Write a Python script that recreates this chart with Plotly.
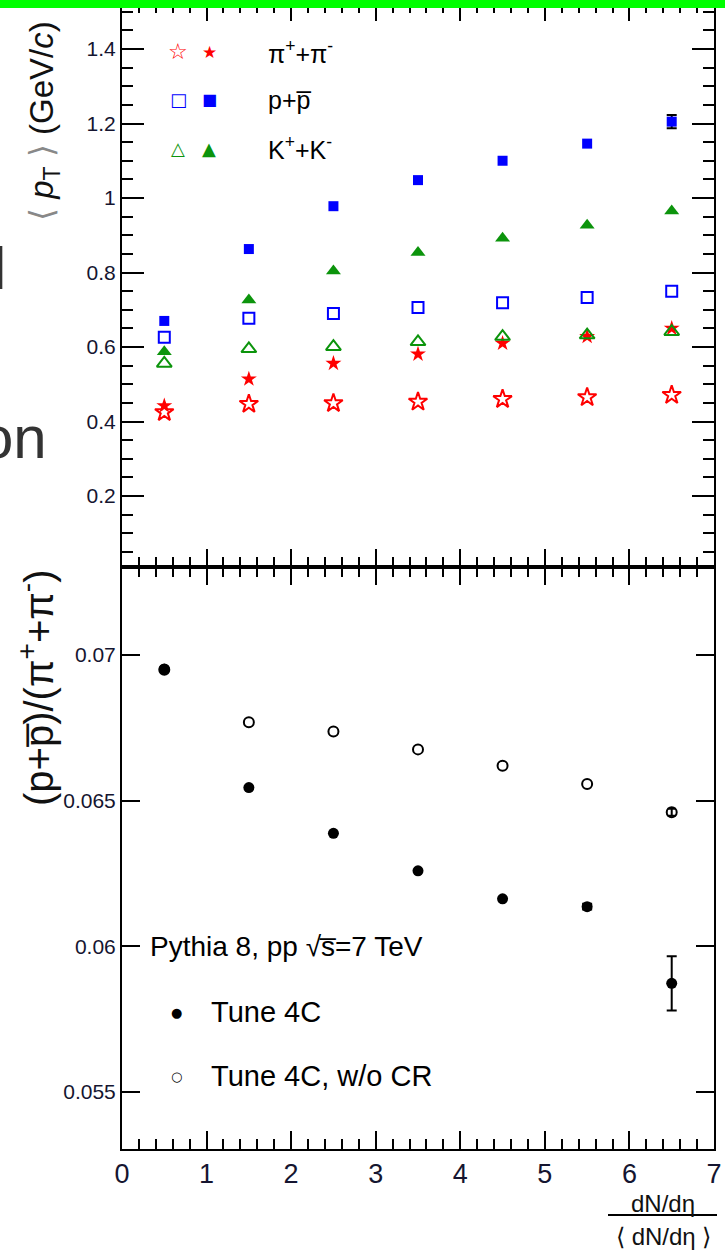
import plotly.graph_objects as go

# ---------------- data ----------------
x_bins = [0.5, 1.5, 2.5, 3.5, 4.5, 5.5, 6.5]

# upper panel: <pT> (GeV/c); open = Tune 4C w/o CR, filled = Tune 4C
pi_open = [0.425, 0.447, 0.449, 0.453, 0.460, 0.465, 0.471]
pi_filled = [0.442, 0.514, 0.556, 0.581, 0.610, 0.628, 0.650]
p_open = [0.626, 0.677, 0.690, 0.706, 0.719, 0.733, 0.750]
p_filled = [0.670, 0.863, 0.978, 1.048, 1.100, 1.146, 1.205]
p_filled_err = [None, None, None, None, None, None, 0.018]
k_open = [0.556, 0.595, 0.601, 0.614, 0.628, 0.632, 0.641]
k_filled = [0.587, 0.726, 0.804, 0.854, 0.892, 0.927, 0.965]

# lower panel: (p+pbar)/(pi+ + pi-)
ratio_4c = [0.06952, 0.06545, 0.06388, 0.06259, 0.06163, 0.06136, 0.05873]
ratio_4c_err = [None, None, None, None, None, 0.0001, 0.00093]
ratio_nocr = [0.06949, 0.06769, 0.06737, 0.06676, 0.06620, 0.06557, 0.06460]
ratio_nocr_err = [None, None, None, None, None, None, 0.00012]

x_ticks = [0, 1, 2, 3, 4, 5, 6, 7]

# ---------------- geometry helpers ----------------
W, H = 725, 1251
L, R = 122, 714          # plot area left / right in px
T, B = 0, 1149           # plot area top / bottom in px
PW, PH = R - L, B - T


def px(xp):
    return (xp - L) / PW


def py(yp):
    return (B - yp) / PH


RED, BLUE, GREEN, BLACK = "#ff0000", "#0000ff", "#0c940c", "#000000"
FONT = "Liberation Sans, Arial, sans-serif"
TICKCOL = "#151530"

fig = go.Figure()


def add_errors(xs, ys, errs, xa, ya, cap):
    """Error bars only (for the points that have one), drawn beneath the markers."""
    sel = [i for i, e in enumerate(errs) if e is not None]
    if not sel:
        return
    fig.add_trace(go.Scatter(x=[xs[i] for i in sel], y=[ys[i] for i in sel], mode="markers",
                             xaxis=xa, yaxis=ya, marker=dict(opacity=0, size=1),
                             error_y=dict(type="data", array=[errs[i] for i in sel], visible=True,
                                          color=BLACK, thickness=2, width=cap)))


def add_points(xs, ys, xa, ya, symbol, size, color, open_marker):
    line = dict(width=2, color=color) if open_marker else dict(width=0)
    fig.add_trace(go.Scatter(x=xs, y=ys, mode="markers", xaxis=xa, yaxis=ya,
                             marker=dict(symbol=symbol, size=size, color=color, line=line)))


# upper panel
add_errors(x_bins, p_filled, p_filled_err, "x", "y", 5)
add_points(x_bins, pi_open, "x", "y", "star-open", 14, RED, True)
add_points(x_bins, pi_filled, "x", "y", "star", 12, RED, False)
add_points(x_bins, k_open, "x", "y", "triangle-up-open", 13, GREEN, True)
add_points(x_bins, k_filled, "x", "y", "triangle-up", 13, GREEN, False)
add_points(x_bins, p_open, "x", "y", "square-open", 11, BLUE, True)
add_points(x_bins, p_filled, "x", "y", "square", 10, BLUE, False)

# lower panel
add_errors(x_bins, ratio_nocr, ratio_nocr_err, "x2", "y2", 4)
add_errors(x_bins, ratio_4c, ratio_4c_err, "x2", "y2", 5)
add_points(x_bins, ratio_nocr, "x2", "y2", "circle-open", 10, BLACK, True)
add_points(x_bins, ratio_4c, "x2", "y2", "circle", 11, BLACK, False)

# ---------------- axes ----------------
top_dom = [py(567), py(3)]
bot_dom = [0, py(567)]

common = dict(showline=True, linecolor="black", linewidth=2, mirror="allticks",
              ticks="inside", tickcolor="black", tickwidth=2, showgrid=False,
              zeroline=False, automargin=False)

fig.update_layout(
    xaxis=dict(**common, range=[0, 7], domain=[0, 1], anchor="y", tickmode="array",
               tickvals=x_ticks, ticklen=18, showticklabels=False,
               minor=dict(dtick=0.2, tick0=0, ticklen=10, tickwidth=2, tickcolor="black",
                          ticks="inside", showgrid=False)),
    yaxis=dict(**common, range=[0.0094, 1.5235], domain=top_dom, anchor="x",
               tickmode="linear", tick0=0, dtick=0.2, ticklen=22,
               tickfont=dict(family=FONT, size=21, color=TICKCOL),
               minor=dict(dtick=0.05, tick0=0, ticklen=11, tickwidth=2, tickcolor="black",
                          ticks="inside", showgrid=False)),
    xaxis2=dict(**common, range=[0, 7], domain=[0, 1], anchor="y2", tickmode="array",
                tickvals=x_ticks, ticktext=[str(v) for v in x_ticks], ticklen=18,
                tickfont=dict(family=FONT, size=27, color=TICKCOL),
                minor=dict(dtick=0.2, tick0=0, ticklen=10, tickwidth=2, tickcolor="black",
                           ticks="inside", showgrid=False)),
    yaxis2=dict(**common, range=[0.053043, 0.07302], domain=bot_dom, anchor="x2",
                tickmode="linear", tick0=0, dtick=0.005, ticklen=18,
                tickfont=dict(family=FONT, size=21, color=TICKCOL)),
)

# ---------------- annotations ----------------
ann = []


def add_text(text, xp, yp, size, color="#000000", xanchor="left", yanchor="middle",
             family=FONT, angle=0):
    ann.append(dict(text=text, x=px(xp), y=py(yp), xref="paper", yref="paper",
                    showarrow=False, xanchor=xanchor, yanchor=yanchor, textangle=angle,
                    font=dict(family=family, size=size, color=color)))


# upper legend
leg_rows = [52, 100, 148]
add_text("☆", 178, leg_rows[0], 22, RED, "center", family="DejaVu Sans")
add_text("★", 209, leg_rows[0], 17, RED, "center", family="DejaVu Sans")
add_text("π<sup>+</sup>+π<sup>-</sup>", 266, leg_rows[0], 25)
add_text("□", 178, leg_rows[1], 18, BLUE, "center", family="DejaVu Sans")
add_text("■", 209, leg_rows[1], 16, BLUE, "center", family="DejaVu Sans")
add_text("p+p̅", 266, leg_rows[1], 25)
add_text("△", 178, leg_rows[2], 18, GREEN, "center", family="DejaVu Sans")
add_text("▲", 209, leg_rows[2], 18, GREEN, "center", family="DejaVu Sans")
add_text("K<sup>+</sup>+K<sup>-</sup>", 266, leg_rows[2], 25)

# lower legend
add_text("Pythia 8, pp √s̅=7 TeV", 148, 946, 28)
add_text("●", 176, 1012, 13, BLACK, "center", family="DejaVu Sans")
add_text("Tune 4C", 209, 1012, 29)
add_text("○", 176, 1076, 13, BLACK, "center", family="DejaVu Sans")
add_text("Tune 4C, w/o CR", 209, 1076, 29)

# y titles
add_text("<span style='color:#888'>⟨</span> <i>p</i><sub>T</sub> <span style='color:#888'>⟩</span> (GeV/<i>c</i>)",
         44, 121, 33, "#111111", "center", angle=-90)
add_text("(p+p̅)/(π<sup>+</sup>+π<sup>-</sup>)", 36, 688, 40, "#111111", "center", angle=-90)

# x title (fraction)
add_text("dN/dη", 663, 1203, 24, "#111111", "center")
add_text("⟨ dN/dη ⟩", 663, 1236, 24, "#111111", "center")

# slide text fragments at the left edge
add_text("l", 8, 268, 60, "#333333", "right")
add_text("on", 49, 437, 60, "#333333", "right")

shapes = [
    dict(type="line", xref="paper", yref="paper", x0=px(608), x1=px(717), y0=py(1215), y1=py(1215),
         line=dict(color="black", width=2)),
    dict(type="rect", xref="paper", yref="paper", x0=px(-2), x1=px(727), y0=py(8), y1=py(-2),
         fillcolor="#00ff00", line=dict(width=0), layer="above"),
]

fig.update_layout(
    width=W, height=H,
    margin=dict(l=L, r=W - R, t=T, b=H - B, pad=0),
    paper_bgcolor="white", plot_bgcolor="white",
    showlegend=False,
    annotations=ann,
    shapes=shapes,
)

fig.write_html("out.html", config={"displayModeBar": False},
               post_script="document.body.style.margin='0';")
